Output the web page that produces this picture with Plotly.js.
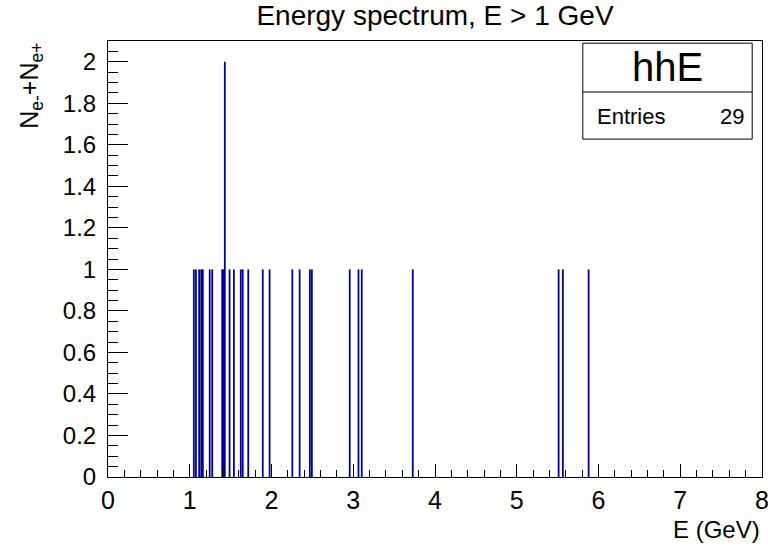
<!DOCTYPE html>
<html>
<head>
<meta charset="utf-8">
<script src="https://cdn.plot.ly/plotly-3.0.1.min.js"></script>
<style>
  html, body { margin: 0; padding: 0; background: #ffffff; }
  #plot { width: 768px; height: 548px; }
</style>
</head>
<body>
<div id="plot"></div>
<script>
// Filled bins of the hhE histogram (bin centre in GeV, entries per bin)
const binCenters = [
  1.050, 1.076, 1.115, 1.140, 1.160, 1.244, 1.275, 1.397, 1.412, 1.429,
  1.487, 1.540, 1.624, 1.648, 1.716, 1.893, 1.977, 2.255, 2.344, 2.469,
  2.494, 2.957, 3.064, 3.104, 3.728, 5.512, 5.564, 5.879
];
const binCounts = [
  1, 1, 1, 1, 1, 1, 1, 1, 1, 2,
  1, 1, 1, 1, 1, 1, 1, 1, 1, 1,
  1, 1, 1, 1, 1, 1, 1, 1
];
const xTickVals = [0, 1, 2, 3, 4, 5, 6, 7, 8];
const yTickVals = [0, 0.2, 0.4, 0.6, 0.8, 1, 1.2, 1.4, 1.6, 1.8, 2];
const yTickText = ['0', '0.2', '0.4', '0.6', '0.8', '1', '1.2', '1.4', '1.6', '1.8', '2'];

const histName = 'hhE';
const entries = binCounts.reduce((a, b) => a + b, 0);

const FONT = 'Liberation Sans, Arial, Helvetica, sans-serif';
const lineColor = '#000099';

const trace = {
  type: 'bar',
  x: binCenters,
  y: binCounts,
  width: 0.022,
  marker: { color: lineColor, line: { width: 0 } },
  hoverinfo: 'x+y'
};

const layout = {
  width: 768,
  height: 548,
  margin: { l: 108, r: 6, t: 41, b: 71 },
  paper_bgcolor: '#ffffff',
  plot_bgcolor: '#ffffff',
  showlegend: false,
  font: { family: FONT, color: '#000000' },
  title: {
    text: 'Energy spectrum, E > 1 GeV',
    font: { family: FONT, size: 28, color: '#000000' },
    x: 0.5, xanchor: 'center', xref: 'paper',
    y: 0.972, yanchor: 'middle', yref: 'container'
  },
  xaxis: {
    range: [0, 8],
    tickmode: 'array',
    tickvals: xTickVals,
    ticktext: xTickVals.map(String),
    ticks: 'inside',
    ticklen: 13,
    tickwidth: 1,
    tickcolor: '#000000',
    minor: { dtick: 0.2, ticks: 'inside', ticklen: 7, tickwidth: 1, tickcolor: '#000000', showgrid: false },
    showgrid: false,
    zeroline: false,
    showline: true,
    linecolor: '#000000',
    linewidth: 1,
    mirror: true,
    tickfont: { family: FONT, size: 25, color: '#000000' },
    ticklabelstandoff: 1,
    ticklabeloverflow: 'allow',
    fixedrange: true
  },
  yaxis: {
    range: [0, 2.1],
    tickmode: 'array',
    tickvals: yTickVals,
    ticktext: yTickText,
    ticks: 'inside',
    ticklen: 20,
    tickwidth: 1,
    tickcolor: '#000000',
    minor: { dtick: 0.05, ticks: 'inside', ticklen: 10, tickwidth: 1, tickcolor: '#000000', showgrid: false },
    showgrid: false,
    zeroline: false,
    showline: true,
    linecolor: '#000000',
    linewidth: 1,
    mirror: true,
    tickfont: { family: FONT, size: 24, color: '#000000' },
    ticklabelstandoff: 6,
    ticklabeloverflow: 'allow',
    fixedrange: true
  },
  shapes: [
    // statistics box
    { type: 'rect', xref: 'paper', yref: 'paper', x0: 0.726, x1: 0.985, y0: 0.775, y1: 0.995,
      line: { color: '#000000', width: 1 }, fillcolor: '#ffffff', layer: 'above' },
    { type: 'line', xref: 'paper', yref: 'paper', x0: 0.726, x1: 0.985, y0: 0.883, y1: 0.883,
      line: { color: '#000000', width: 1 }, layer: 'above' }
  ],
  annotations: [
    { text: histName, xref: 'paper', yref: 'paper', x: 0.8555, y: 0.94,
      xanchor: 'center', yanchor: 'middle', showarrow: false,
      font: { family: FONT, size: 40, color: '#000000' } },
    { text: 'Entries', xref: 'paper', yref: 'paper', x: 0.745, y: 0.826,
      xanchor: 'left', yanchor: 'middle', showarrow: false,
      font: { family: FONT, size: 22, color: '#000000' } },
    { text: String(entries), xref: 'paper', yref: 'paper', x: 0.975, y: 0.826,
      xanchor: 'right', yanchor: 'middle', showarrow: false,
      font: { family: FONT, size: 22, color: '#000000' } },
    // axis titles, aligned to the axis ends
    { text: 'E (GeV)', xref: 'paper', yref: 'paper', x: 1.0, y: -0.084,
      xanchor: 'right', yanchor: 'top', showarrow: false,
      font: { family: FONT, size: 24, color: '#000000' } },
    { text: 'N<sub>e-</sub>+N<sub>e+</sub>', xref: 'paper', yref: 'paper', x: -0.118, y: 1.0,
      xanchor: 'center', yanchor: 'top', textangle: -90, showarrow: false,
      font: { family: FONT, size: 25, color: '#000000' } }
  ]
};

Plotly.newPlot('plot', [trace], layout, { displayModeBar: false, staticPlot: true });
</script>
</body>
</html>
